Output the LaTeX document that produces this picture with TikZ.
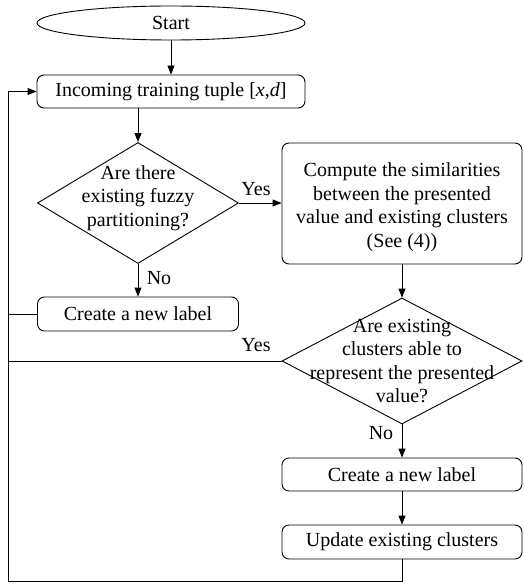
\documentclass[tikz,border=0pt]{standalone}
\usepackage{fontspec}
\setmainfont{Liberation Serif}
\usetikzlibrary{shapes.geometric,arrows.meta}
\begin{document}
\begin{tikzpicture}[x=1pt,y=-1pt,
  font=\fontsize{20}{23.5}\selectfont,
  line width=0.9pt,
  >={Triangle[length=9pt,width=7pt]},
  proc/.style={draw, rounded corners=7pt, inner sep=0pt, align=center},
  dec/.style={draw, diamond, inner sep=0pt},
  txt/.style={inner sep=0pt, align=center},
  lbl/.style={inner sep=0pt}]
\useasboundingbox (0,0) rectangle (523,585);
% nodes
\node[draw, ellipse, minimum width=268pt, minimum height=34pt, inner sep=0pt] (start) at (171,23) {Start};
\node[proc, minimum width=268pt, minimum height=33pt] (inc) at (171,91.5) {Incoming training tuple [\textit{x},\textit{d}]};
\node[dec, minimum width=201pt, minimum height=121pt] (d1) at (138,203) {};
\node[txt] (d1t) at (138,198) {Are there\\existing fuzzy\\partitioning?};
\node[proc, minimum width=240pt, minimum height=121pt] (comp) at (402,203.5) {};
\node[txt] (compt) at (402,207) {Compute the similarities\\between the presented\\value and existing clusters\\(See (4))};
\node[proc, minimum width=201pt, minimum height=34pt] (cl1) at (138,314) {Create a new label};
\node[dec, minimum width=240pt, minimum height=126pt] (d2) at (402,361) {};
\node[txt] (d2t) at (402,361) {Are existing\\clusters able to\\represent the presented\\value?};
\node[proc, minimum width=240pt, minimum height=33pt] (cl2) at (402,474.5) {Create a new label};
\node[proc, minimum width=240pt, minimum height=34pt] (upd) at (402,542) {Update existing clusters};
% labels
\node[lbl] (yes1) at (256,189) {Yes};
\node[lbl] (no1) at (159,278) {No};
\node[lbl] (yes2) at (256,345) {Yes};
\node[lbl] (no2) at (381,433) {No};
\coordinate (L2) at (8,581);
% connectors
\draw[->] (start) -- (inc);
\draw[->] (inc.south -| d1.north) -- (d1.north);
\draw[->] (d1.east) -- (d1.east -| comp.west);
\draw[->] (d1.south) -- (cl1.north);
\draw[->] (comp.south) -- (d2.north);
\draw[->] (d2.south) -- (cl2.north);
\draw[->] (cl2.south) -- (upd.north);
\draw (cl1.west) -- (cl1.west -| L2);
\draw (d2.west) -- (d2.west -| L2);
\draw[->] (upd.south) |- (L2) |- (inc.west);
\end{tikzpicture}
\end{document}
